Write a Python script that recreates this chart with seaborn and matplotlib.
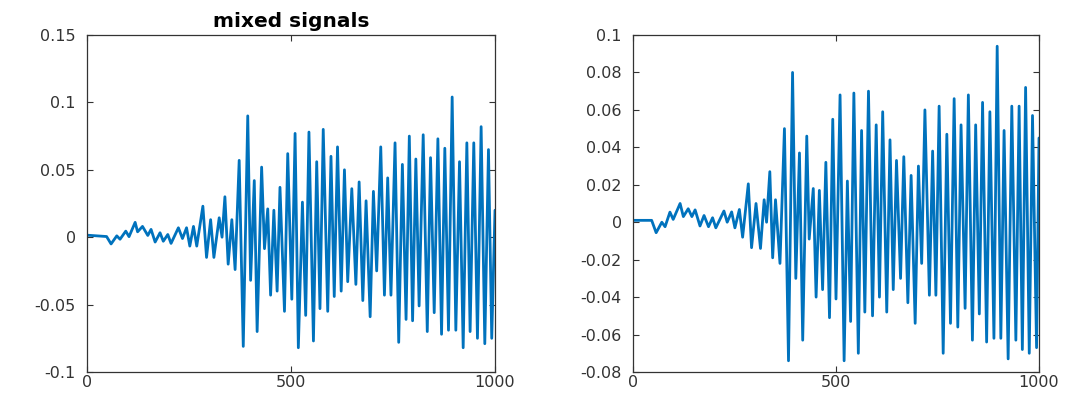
import matplotlib
matplotlib.use("Agg")
import matplotlib.pyplot as plt
import seaborn as sns
import pandas as pd
from matplotlib.ticker import FuncFormatter

# ---- data (local extrema) ----
left_idx = [0, 48, 59, 73, 81, 95, 103, 118, 124, 136, 149, 157, 167, 179, 187, 198, 206, 224, 234, 244,
            252, 261, 269, 284, 293, 303, 311, 324, 331, 338, 346, 355, 363, 373, 383, 394, 401, 410, 417, 428,
            435, 443, 450, 458, 466, 473, 484, 492, 502, 510, 518, 528, 536, 544, 555, 563, 571, 579, 590, 598,
            606, 614, 623, 631, 639, 649, 659, 667, 676, 684, 694, 702, 710, 720, 729, 737, 745, 755, 764, 773,
            782, 790, 798, 806, 814, 824, 834, 842, 851, 860, 869, 877, 886, 895, 904, 913, 922, 931, 939, 948,
            957, 966, 975, 984, 992, 1000]
left_val = [0.0015, 0.0005, -0.005, 0.001, -0.0015, 0.0045, 0.0004, 0.011, 0.004, 0.008, 0.0013, 0.0058,
            -0.0036, 0.0033, -0.003, 0.002, -0.0046, 0.007, -0.001, 0.007, -0.0066, 0.008, -0.0066, 0.023,
            -0.015, 0.013, -0.015, 0.0144, 0.0, 0.030, -0.020, 0.013, -0.024, 0.057, -0.081, 0.090, -0.032,
            0.042, -0.070, 0.052, -0.0085, 0.021, -0.043, 0.020, -0.040, 0.037, -0.055, 0.062, -0.046, 0.077,
            -0.082, 0.026, -0.058, 0.078, -0.077, 0.056, -0.053, 0.080, -0.055, 0.060, -0.044, 0.067, -0.040,
            0.050, -0.033, 0.036, -0.035, 0.041, -0.047, 0.027, -0.059, 0.034, -0.025, 0.067, -0.043, 0.044,
            -0.043, 0.070, -0.078, 0.054, -0.061, 0.075, -0.062, 0.058, -0.051, 0.076, -0.070, 0.059, -0.056,
            0.073, -0.072, 0.066, -0.069, 0.104, -0.069, 0.056, -0.082, 0.070, -0.070, 0.070, -0.075, 0.082,
            -0.079, 0.065, -0.075, 0.02]

right_idx = [0, 46, 57, 71, 79, 91, 99, 116, 124, 136, 145, 153, 165, 175, 186, 196, 204, 224, 232, 243,
             251, 262, 270, 284, 292, 303, 314, 323, 329, 337, 344, 351, 362, 373, 383, 393, 401, 410, 418, 428,
             434, 444, 451, 459, 467, 475, 484, 492, 500, 510, 520, 528, 536, 544, 555, 563, 571, 580, 590, 599,
             607, 615, 625, 633, 641, 649, 659, 667, 677, 685, 695, 703, 711, 719, 730, 738, 746, 754, 764, 773,
             782, 791, 800, 808, 818, 826, 836, 844, 853, 861, 871, 879, 889, 897, 906, 914, 924, 933, 943, 951,
             959, 967, 976, 984, 994, 1000]
right_val = [0.001, 0.001, -0.0056, 0.0, -0.0024, 0.0054, 0.0015, 0.010, 0.003, 0.0072, 0.003, 0.0066,
             -0.002, 0.0036, -0.0024, 0.0024, -0.003, 0.006, 0.0, 0.0055, -0.003, 0.0068, -0.008, 0.0205,
             -0.0136, 0.010, -0.014, 0.012, 0.0, 0.027, -0.019, 0.012, -0.022, 0.050, -0.074, 0.080, -0.030,
             0.037, -0.063, 0.046, -0.009, 0.018, -0.040, 0.017, -0.036, 0.032, -0.051, 0.055, -0.041, 0.068,
             -0.074, 0.022, -0.053, 0.069, -0.070, 0.049, -0.048, 0.070, -0.050, 0.052, -0.040, 0.059, -0.048,
             0.044, -0.036, 0.033, -0.030, 0.035, -0.043, 0.025, -0.054, 0.030, -0.022, 0.060, -0.039, 0.038,
             -0.039, 0.062, -0.070, 0.047, -0.054, 0.066, -0.056, 0.052, -0.046, 0.068, -0.063, 0.052, -0.049,
             0.064, -0.064, 0.059, -0.062, 0.094, -0.062, 0.049, -0.073, 0.062, -0.063, 0.062, -0.068, 0.072,
             -0.070, 0.057, -0.067, 0.045]

left_title = "mixed signals"
x_ticks = [0, 500, 1000]
left_yticks = [-0.1, -0.05, 0, 0.05, 0.1, 0.15]
right_yticks = [-0.08, -0.06, -0.04, -0.02, 0, 0.02, 0.04, 0.06, 0.08, 0.1]

# ---- style ----
sns.set_theme(style="white")
plt.rcParams["font.family"] = ["DejaVu Sans"]
LINE = "#0072BD"
AX = "#333333"

fig = plt.figure(figsize=(10.75, 3.94), dpi=100)
ax1 = fig.add_axes([87 / 1075, 22 / 394, 408 / 1075, 337 / 394])
ax2 = fig.add_axes([633 / 1075, 22 / 394, 406 / 1075, 337 / 394])

df1 = pd.DataFrame({"n": left_idx, "v": left_val})
df2 = pd.DataFrame({"n": right_idx, "v": right_val})
sns.lineplot(data=df1, x="n", y="v", ax=ax1, color=LINE, linewidth=2.0, sort=False, estimator=None)
sns.lineplot(data=df2, x="n", y="v", ax=ax2, color=LINE, linewidth=2.0, sort=False, estimator=None)

fmt = FuncFormatter(lambda v, p: "0" if abs(v) < 1e-12 else ("%g" % round(v, 4)))
for ax, yt, ylim in [(ax1, left_yticks, (-0.1, 0.15)), (ax2, right_yticks, (-0.08, 0.1))]:
    ax.set_xlim(0, 1000)
    ax.set_ylim(*ylim)
    ax.set_xticks(x_ticks)
    ax.set_yticks(yt)
    ax.yaxis.set_major_formatter(fmt)
    ax.set_xlabel("")
    ax.set_ylabel("")
    ax.tick_params(direction="in", length=4, width=0.8, colors=AX, labelsize=11.5,
                   top=True, right=True, bottom=True, left=True, pad=8)
    ax.tick_params(axis="x", pad=2)
    for s in ax.spines.values():
        s.set_visible(True)
        s.set_color(AX)
        s.set_linewidth(0.9)
    ax.grid(False)
    ax.set_facecolor("white")

ax1.set_title(left_title, fontsize=14.5, fontweight="bold", color="black", pad=6)

fig.savefig("out.png", dpi=100, facecolor="white")
